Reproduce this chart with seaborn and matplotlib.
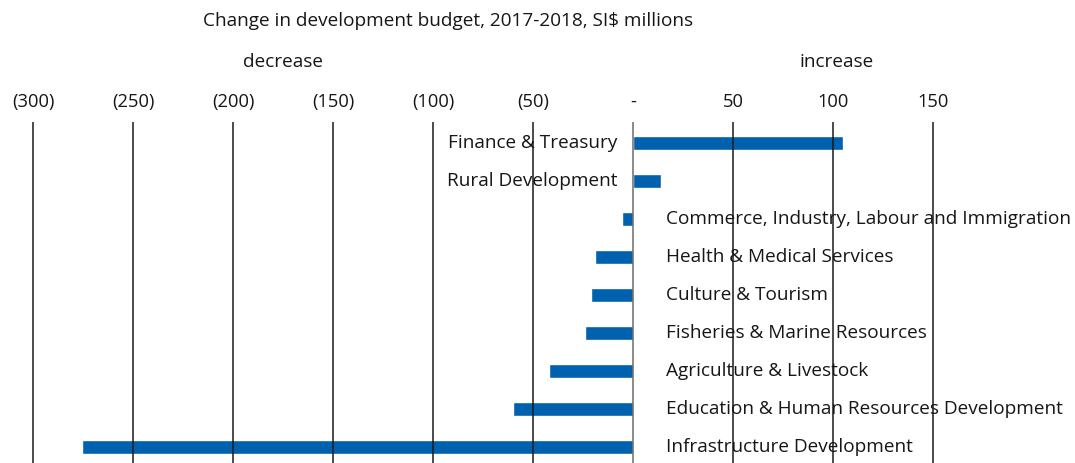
import matplotlib
matplotlib.use("Agg")
import matplotlib.pyplot as plt
import seaborn as sns
import pandas as pd

categories = [
    "Finance & Treasury",
    "Rural Development",
    "Commerce, Industry, Labour and Immigration",
    "Health & Medical Services",
    "Culture & Tourism",
    "Fisheries & Marine Resources",
    "Agriculture & Livestock",
    "Education & Human Resources Development",
    "Infrastructure Development",
]
values = [105, 14, -5.5, -19, -21, -24, -42, -60, -275.5]
tick_values = [-300, -250, -200, -150, -100, -50, 0, 50, 100, 150]
tick_labels = ["(300)", "(250)", "(200)", "(150)", "(100)", "(50)", "-", "50", "100", "150"]

sns.set_theme(style="white")
plt.rcParams["font.family"] = ["Open Sans", "DejaVu Sans"]

FS = 13.7
TXT = "#161616"
W, H = 1075, 463
fig = plt.figure(figsize=(W / 100, H / 100), dpi=100)
ax = fig.add_axes([0, 0, 1, (463 - 122) / 463])

df = pd.DataFrame({"cat": categories, "val": values})
sns.barplot(data=df, x="val", y="cat", orient="h", color="#0061ae",
            width=14 / 38, saturation=1, ax=ax, zorder=1)

ax.set_xlim(-633 / 2, (W - 633) / 2)
ax.set_ylim(8 + 16 / 38, -21 / 38)

for t in tick_values:
    ax.axvline(t, color="#6b6b6b" if t == 0 else "#1a1a1a", lw=1.1, zorder=3)

ax.set_xticks(tick_values)
ax.set_xticklabels(tick_labels)
ax.tick_params(axis="x", top=True, labeltop=True, bottom=False, labelbottom=False,
               length=0, pad=8, labelsize=13.2, labelcolor=TXT)
ax.set_yticks([])
ax.set_xlabel("")
ax.set_ylabel("")
for s in ax.spines.values():
    s.set_visible(False)

for i, (c, v) in enumerate(zip(categories, values)):
    if v >= 0:
        ax.text(-8, i, c, ha="right", va="center", fontsize=FS, color=TXT, zorder=4)
    else:
        ax.text(16.5, i, c, ha="left", va="center", fontsize=FS, color=TXT, zorder=4)

fig.text(448 / W, 1 - 21 / H, "Change in development budget, 2017-2018, SI$ millions",
         ha="center", va="center", fontsize=FS, color=TXT)
fig.text(283 / W, 1 - 62 / H, "decrease", ha="center", va="center", fontsize=FS, color=TXT)
fig.text(837 / W, 1 - 62 / H, "increase", ha="center", va="center", fontsize=FS, color=TXT)

fig.savefig("out.png", dpi=100)
